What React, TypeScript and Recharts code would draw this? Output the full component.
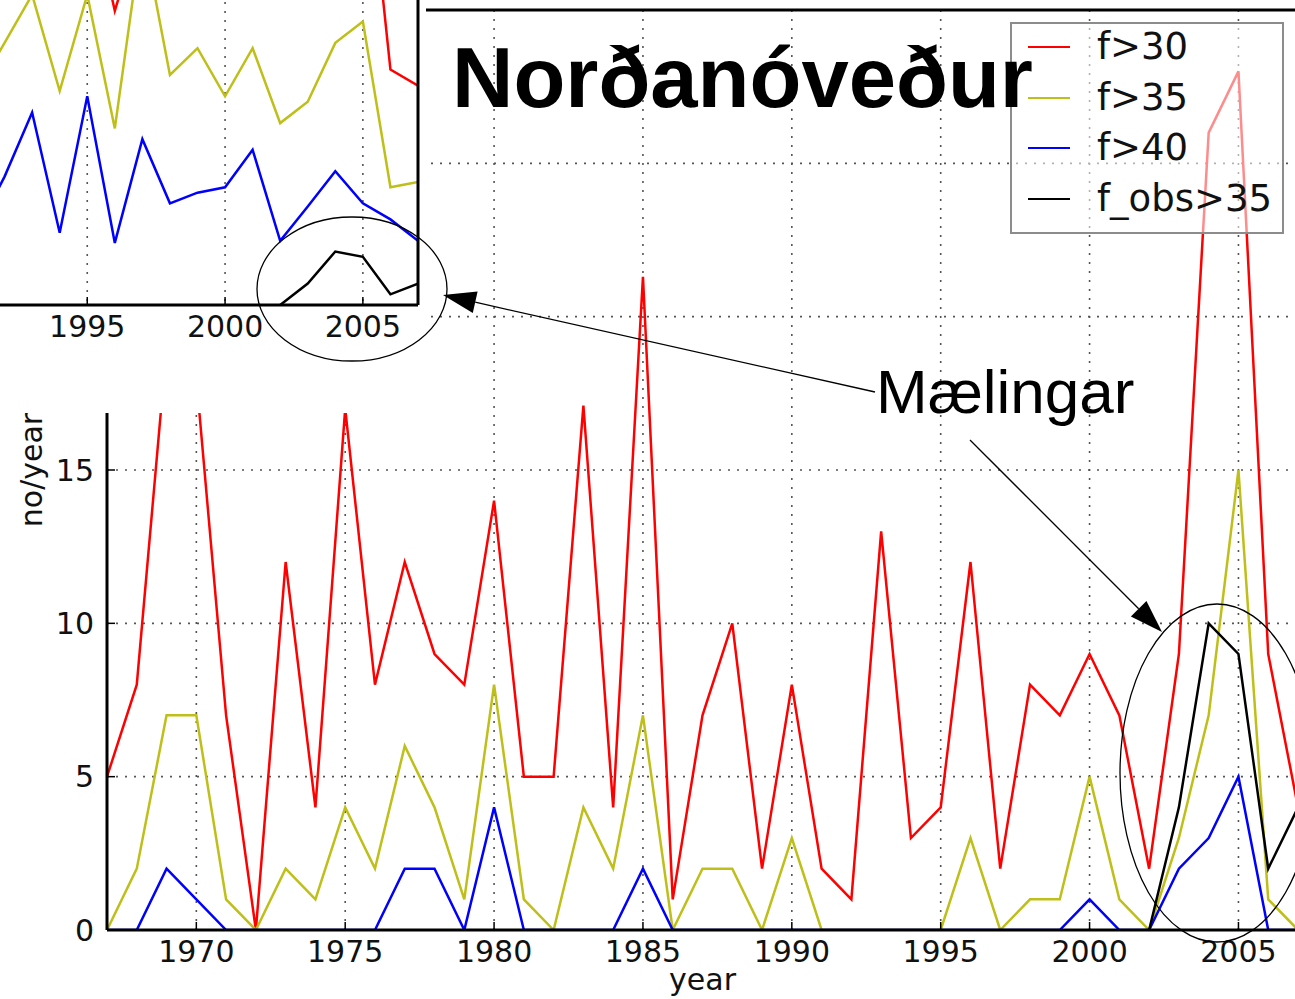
import React from "react";
import { CartesianGrid, Legend, Line, LineChart, XAxis, YAxis } from "recharts";

// main chart: yearly counts 1967-2007
const years = [
  1967, 1968, 1969, 1970, 1971, 1972, 1973, 1974, 1975, 1976,
  1977, 1978, 1979, 1980, 1981, 1982, 1983, 1984, 1985, 1986,
  1987, 1988, 1989, 1990, 1991, 1992, 1993, 1994, 1995, 1996,
  1997, 1998, 1999, 2000, 2001, 2002, 2003, 2004, 2005, 2006,
  2007,
];
const f30 = [
  5, 8, 19, 18, 7, 0, 12, 4, 17, 8,
  12, 9, 8, 14, 5, 5, 17.1, 4, 21.3, 1,
  7, 10, 2, 8, 2, 1, 13, 3, 4, 12,
  2, 8, 7, 9, 7, 2, 9, 26, 28, 9,
  4,
];
const f35 = [
  0, 2, 7, 7, 1, 0, 2, 1, 4, 2,
  6, 4, 1, 8, 1, 0, 4, 2, 7, 0,
  2, 2, 0, 3, 0, 0, 0, 0, 0, 3,
  0, 1, 1, 5, 1, 0, 3, 7, 15, 1,
  0,
];
const f40 = [
  0, 0, 2, 1, 0, 0, 0, 0, 0, 0,
  2, 2, 0, 4, 0, 0, 0, 0, 2, 0,
  0, 0, 0, 0, 0, 0, 0, 0, 0, 0,
  0, 0, 0, 1, 0, 0, 2, 3, 5, 0,
  0,
];
const fObs = [
  null, null, null, null, null, null, null, null, null, null,
  null, null, null, null, null, null, null, null, null, null,
  null, null, null, null, null, null, null, null, null, null,
  null, null, null, null, null, 0, 4, 10, 9, 2,
  4,
];
const yearTicks = [1970, 1975, 1980, 1985, 1990, 1995, 2000, 2005];
const countTicks = [0, 5, 10, 15, 20, 25, 30];

// inset (pasted crop of another plot)
const insetYears = [
  1991, 1992, 1993, 1994, 1995, 1996, 1997, 1998, 1999, 2000,
  2001, 2002, 2003, 2004, 2005, 2006, 2007,
];
const insetF30 = [80, 76, 84, 72, 78, 55, 72, 68, 66, 74, 70, 73, 82, 88, 93, 44, 41];
const insetF35 = [40, 49, 58, 40, 58, 33, 70, 43, 48, 39, 48, 34, 38, 49, 53, 22, 23];
const insetF40 = [14, 24, 36, 13.5, 39, 11.6, 31, 19, 21, 22, 29, 12, 18.4, 25, 19, 16, 12];
const insetObs = [null, null, null, null, null, null, null, null, null, null, null, 0, 4, 10, 9, 2, 4];
const insetYearTicks = [1995, 2000, 2005];
const insetCountTicks = [0, 20, 40, 60];

const RED = "#ff0000";
const YELLOW = "#bfbf1a";
const BLUE = "#0000ff";
const BLACK = "#000000";
const AXIS_FONT = "DejaVu Sans, sans-serif";

const mainRows = years.map((year, i) => ({
  year,
  f30: f30[i],
  f35: f35[i],
  f40: f40[i],
  obs: fObs[i],
}));

const insetRows = insetYears.map((year, i) => ({
  year,
  f30: insetF30[i],
  f35: insetF35[i],
  f40: insetF40[i],
  obs: insetObs[i],
}));

const tickStyle = { fill: "#111", fontSize: 30, fontFamily: AXIS_FONT };
const spine = { stroke: "#000", strokeWidth: 3 };
const tickMark = { stroke: "#000", strokeWidth: 1.5 };

// labels above 15 sit under the pasted inset in the original, so skip them
function CountTick(props: any) {
  const { x, y, payload } = props;
  if (payload.value > 15) return <g />;
  return (
    <text
      x={x}
      y={y}
      dy="0.355em"
      textAnchor="end"
      fill="#111"
      fontSize={30}
      fontFamily={AXIS_FONT}
    >
      {payload.value}
    </text>
  );
}

function NoYearLabel(props: any) {
  const vb = props.viewBox || {};
  const cx = (vb.x ?? 0) + 31;
  const cy = (vb.y ?? 10) + (vb.height ?? 920) / 2;
  return (
    <text
      x={cx}
      y={cy}
      transform={`rotate(-90 ${cx} ${cy})`}
      textAnchor="middle"
      dominantBaseline="central"
      fill="#111"
      fontSize={30}
      fontFamily={AXIS_FONT}
    >
      no/year
    </text>
  );
}

function renderLegend(props: any) {
  const payload = props.payload || [];
  return (
    <div
      style={{
        position: "relative",
        width: 274,
        height: 212,
        boxSizing: "border-box",
        border: "2px solid #8c8c8c",
        background: "rgba(255,255,255,0.55)",
      }}
    >
      {payload.map((entry: any, i: number) => (
        <div
          key={i}
          style={{
            position: "absolute",
            left: 0,
            top: 1 + i * 50.5,
            height: 44,
            display: "flex",
            alignItems: "center",
            whiteSpace: "nowrap",
          }}
        >
          <span
            style={{
              display: "inline-block",
              marginLeft: 16,
              width: 42,
              height: 0,
              borderTop: `2.5px solid ${entry.color}`,
            }}
          />
          <span
            style={{
              marginLeft: 27,
              fontSize: 37,
              lineHeight: "44px",
              fontFamily: AXIS_FONT,
              color: "#111",
            }}
          >
            {entry.value}
          </span>
        </div>
      ))}
    </div>
  );
}

function arrowHead(tx: number, ty: number, fx: number, fy: number, len = 33, half = 11) {
  const dx = tx - fx;
  const dy = ty - fy;
  const d = Math.hypot(dx, dy);
  const ux = dx / d;
  const uy = dy / d;
  const bx = tx - len * ux;
  const by = ty - len * uy;
  return {
    points: `${tx},${ty} ${bx - half * uy},${by + half * ux} ${bx + half * uy},${by - half * ux}`,
    bx,
    by,
  };
}

function InsetChart() {
  return (
    <div
      style={{
        position: "absolute",
        left: 0,
        top: 0,
        width: 426,
        height: 413,
        background: "#fff",
        overflow: "hidden",
      }}
    >
      <div style={{ position: "absolute", left: -23, top: -16 }}>
        <LineChart
          width={450}
          height={381}
          data={insetRows}
          margin={{ top: 0, right: 8, left: 0, bottom: 0 }}
        >
          <CartesianGrid
            yAxisId="r"
            stroke="#555"
            strokeDasharray="2 7"
            strokeWidth={1.6}
          />
          <XAxis
            dataKey="year"
            type="number"
            domain={[1991, 2007]}
            ticks={insetYearTicks}
            interval={0}
            height={60}
            tickSize={-8}
            tickMargin={19}
            axisLine={spine}
            tickLine={tickMark}
            tick={tickStyle}
            allowDataOverflow
          />
          <YAxis hide domain={[0, 60]} ticks={insetCountTicks} allowDataOverflow />
          <YAxis
            yAxisId="r"
            orientation="right"
            width={1}
            domain={[0, 60]}
            ticks={insetCountTicks}
            interval={0}
            tickSize={-8}
            tick={false}
            axisLine={spine}
            tickLine={tickMark}
          />
          <Line dataKey="f30" stroke={RED} strokeWidth={2.5} dot={false} activeDot={false} isAnimationActive={false} />
          <Line dataKey="f35" stroke={YELLOW} strokeWidth={2.5} dot={false} activeDot={false} isAnimationActive={false} />
          <Line dataKey="f40" stroke={BLUE} strokeWidth={2.5} dot={false} activeDot={false} isAnimationActive={false} />
          <Line dataKey="obs" stroke={BLACK} strokeWidth={2.5} dot={false} activeDot={false} isAnimationActive={false} />
        </LineChart>
      </div>
    </div>
  );
}

export default function App() {
  const a1 = arrowHead(443, 295, 875, 392);
  const a2 = arrowHead(1162, 632, 970, 440);
  return (
    <div
      style={{
        position: "absolute",
        left: 0,
        top: 0,
        width: 1295,
        height: 999,
        overflow: "hidden",
        background: "#fff",
      }}
    >
      <div style={{ position: "absolute", left: 0, top: 0 }}>
        <LineChart
          width={1310}
          height={999}
          data={mainRows}
          margin={{ top: 9, right: 12, left: 0, bottom: 0 }}
        >
          <CartesianGrid stroke="#555" strokeDasharray="2 7" strokeWidth={1.6} />
          <XAxis
            dataKey="year"
            type="number"
            domain={[1967, 2007]}
            ticks={yearTicks}
            interval={0}
            height={69}
            tickSize={-8}
            tickMargin={19}
            axisLine={spine}
            tickLine={tickMark}
            tick={tickStyle}
            allowDataOverflow
            label={{
              value: "year",
              position: "insideBottom",
              offset: 9,
              fill: "#111",
              fontSize: 30,
              fontFamily: AXIS_FONT,
            }}
          />
          <XAxis
            xAxisId="top"
            orientation="top"
            dataKey="year"
            type="number"
            domain={[1967, 2007]}
            ticks={yearTicks}
            interval={0}
            height={1}
            tickSize={-8}
            tick={false}
            axisLine={spine}
            tickLine={tickMark}
            allowDataOverflow
          />
          <YAxis
            domain={[0, 30]}
            ticks={countTicks}
            interval={0}
            width={107}
            tickSize={-8}
            tickMargin={21}
            axisLine={spine}
            tickLine={tickMark}
            tick={<CountTick />}
            allowDataOverflow
            label={<NoYearLabel />}
          />
          <Legend
            layout="vertical"
            align="center"
            verticalAlign="middle"
            content={renderLegend}
            wrapperStyle={{ left: 1010, top: 22, width: 274, height: 212 }}
          />
          <Line name="f>30" dataKey="f30" stroke={RED} strokeWidth={2.5} dot={false} activeDot={false} isAnimationActive={false} />
          <Line name="f>35" dataKey="f35" stroke={YELLOW} strokeWidth={2.5} dot={false} activeDot={false} isAnimationActive={false} />
          <Line name="f>40" dataKey="f40" stroke={BLUE} strokeWidth={2.5} dot={false} activeDot={false} isAnimationActive={false} />
          <Line name="f_obs>35" dataKey="obs" stroke={BLACK} strokeWidth={2.5} dot={false} activeDot={false} isAnimationActive={false} />
        </LineChart>
      </div>

      <InsetChart />

      {/* annotations drawn on top: title, note, arrows, ellipses */}
      <svg
        width={1295}
        height={999}
        style={{ position: "absolute", left: 0, top: 0, pointerEvents: "none" }}
      >
        <text
          x={452}
          y={107}
          fontSize={85}
          fontWeight="bold"
          fontFamily="Liberation Sans, Arial, sans-serif"
          fill="#000"
        >
          Norðanóveður
        </text>
        <text
          x={876}
          y={413}
          fontSize={62}
          fontFamily="Liberation Sans, Arial, sans-serif"
          fill="#000"
        >
          Mælingar
        </text>
        <line x1={875} y1={392} x2={a1.bx} y2={a1.by} stroke="#000" strokeWidth={1.3} />
        <polygon points={a1.points} fill="#000" />
        <line x1={970} y1={440} x2={a2.bx} y2={a2.by} stroke="#000" strokeWidth={1.3} />
        <polygon points={a2.points} fill="#000" />
        <ellipse cx={352} cy={289} rx={95} ry={72} fill="none" stroke="#000" strokeWidth={1.3} />
        <ellipse cx={1217} cy={773} rx={97} ry={169} fill="none" stroke="#000" strokeWidth={1.3} />
      </svg>
    </div>
  );
}
